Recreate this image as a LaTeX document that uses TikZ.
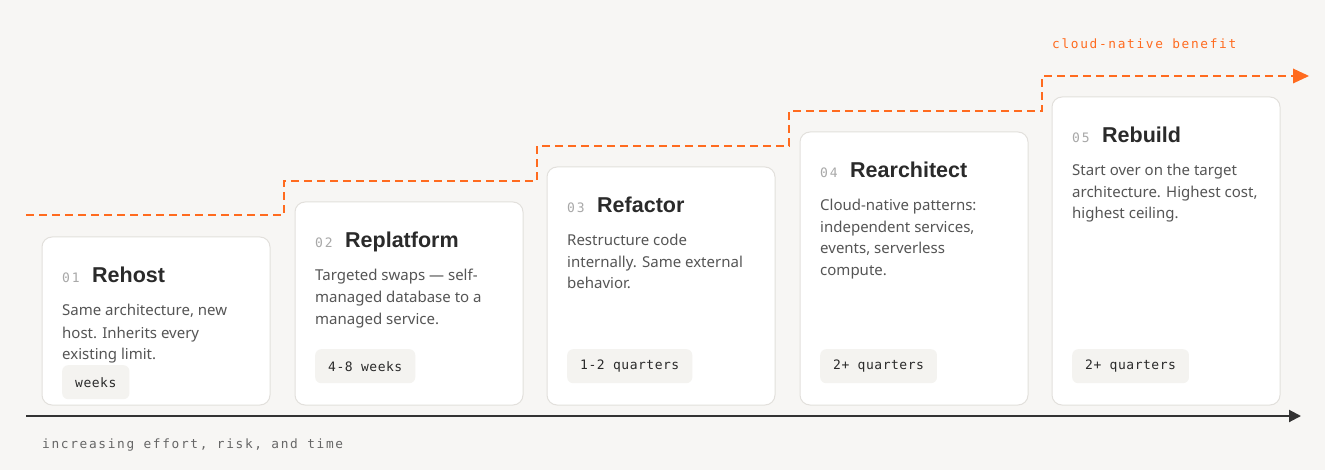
\documentclass[tikz,border=0pt]{standalone}
\usepackage{fontspec}
\setmainfont{Noto Sans}
\newfontfamily\titlef{Liberation Sans}
\newfontfamily\monof[LetterSpace=4]{DejaVu Sans Mono}
\newfontfamily\monosp[LetterSpace=15]{DejaVu Sans Mono}
\newfontfamily\monolab[LetterSpace=13]{DejaVu Sans Mono}
\usetikzlibrary{arrows.meta}
\definecolor{bg}{HTML}{F7F6F4}
\definecolor{cardline}{HTML}{E2E0DC}
\definecolor{pillfill}{HTML}{F4F3F0}
\definecolor{orange}{HTML}{FF6B1F}
\definecolor{titlec}{HTML}{2A2A2A}
\definecolor{descc}{HTML}{555555}
\definecolor{numc}{HTML}{A8A8A8}
\definecolor{axisc}{HTML}{333333}
\definecolor{labelc}{HTML}{666666}
\tikzset{
  card/.style={draw=cardline, line width=1pt, fill=white, rounded corners=10pt},
  numtxt/.style={anchor=base west, inner sep=0pt, text=numc, font=\monosp\fontsize{13}{13}\selectfont},
  titletxt/.style={anchor=base west, inner sep=0pt, text=titlec, font=\titlef\bfseries\fontsize{21.5}{21.5}\selectfont},
  desctxt/.style={anchor=base west, inner sep=0pt, text=descc, font=\fontsize{15}{15}\selectfont},
  pill/.style={anchor=north west, fill=pillfill, rounded corners=6pt, inner xsep=13pt, inner ysep=0pt, minimum height=34pt, text=titlec, font=\monof\fontsize{13}{13}\selectfont},
  benefit/.style={draw=orange, line width=2pt, dash pattern=on 8pt off 5pt},
  monolabel/.style={anchor=base west, inner sep=0pt, font=\monolab\fontsize{12.8}{12.8}\selectfont},
}
\begin{document}
\begin{tikzpicture}[x=1pt,y=-1pt]
\useasboundingbox[fill=bg] (0,0) rectangle (1325,470);

% cards
\path[card] (42,237) rectangle (270,405);
\node (c1) at (156,321) {};
\path[card] (295,202) rectangle (523,405);
\node (c2) at (409,303) {};
\path[card] (547,167) rectangle (775,405);
\node (c3) at (661,286) {};
\path[card] (800,132) rectangle (1028,405);
\node (c4) at (914,268) {};
\path[card] (1052,97) rectangle (1280,405);
\node (c5) at (1166,251) {};

% card 1
\node[numtxt] (n1) at (62,283) {01};
\node[titletxt] (t1) at (92,283) {Rehost};
\node[desctxt] (d1a) at (62,316) {Same architecture, new};
\node[desctxt] (d1b) at (62,338) {host. Inherits every};
\node[desctxt] (d1c) at (62,359) {existing limit.};
\node[pill] (p1) at (62,365) {weeks};

% card 2
\node[numtxt] (n2) at (315,248) {02};
\node[titletxt] (t2) at (345,248) {Replatform};
\node[desctxt] (d2a) at (315,281) {Targeted swaps — self-};
\node[desctxt] (d2b) at (315,303) {managed database to a};
\node[desctxt] (d2c) at (315,324) {managed service.};
\node[pill] (p2) at (315,349) {4-8 weeks};

% card 3
\node[numtxt] (n3) at (567,213) {03};
\node[titletxt] (t3) at (597,213) {Refactor};
\node[desctxt] (d3a) at (567,246) {Restructure code};
\node[desctxt] (d3b) at (567,268) {internally. Same external};
\node[desctxt] (d3c) at (567,289) {behavior.};
\node[pill] (p3) at (567,349) {1-2 quarters};

% card 4
\node[numtxt] (n4) at (820,178) {04};
\node[titletxt] (t4) at (850,178) {Rearchitect};
\node[desctxt] (d4a) at (820,211) {Cloud-native patterns:};
\node[desctxt] (d4b) at (820,233) {independent services,};
\node[desctxt] (d4c) at (820,254) {events, serverless};
\node[desctxt] (d4d) at (820,276) {compute.};
\node[pill] (p4) at (820,349) {2+ quarters};

% card 5
\node[numtxt] (n5) at (1072,143) {05};
\node[titletxt] (t5) at (1102,143) {Rebuild};
\node[desctxt] (d5a) at (1072,176) {Start over on the target};
\node[desctxt] (d5b) at (1072,198) {architecture. Highest cost,};
\node[desctxt] (d5c) at (1072,219) {highest ceiling.};
\node[pill] (p5) at (1072,349) {2+ quarters};

% benefit staircase
\coordinate (s0) at (26,215);
\coordinate (s1) at (284,215);
\coordinate (s2) at (284,181);
\coordinate (s3) at (537,181);
\coordinate (s4) at (537,146);
\coordinate (s5) at (789,146);
\coordinate (s6) at (789,111);
\coordinate (s7) at (1042,111);
\coordinate (s8) at (1042,76);
\coordinate (s9) at (1309,76);
\draw[benefit] (s0) -- (s1) -- (s2) -- (s3) -- (s4) -- (s5) -- (s6) -- (s7) -- (s8) -- (1293,76);
\fill[orange] (s9) -- (1293,68.5) -- (1293,83.5) -- cycle;
\node[monolabel, text=orange] (bl) at (1052,49) {cloud-native benefit};

% axis
\coordinate (a0) at (26,416);
\coordinate (a1) at (1301,416);
\draw[axisc, line width=2pt, -{Triangle[length=12pt,width=12pt]}] (a0) -- (a1);
\node[monolabel, text=labelc] (al) at (42,448) {increasing effort, risk, and time};
\end{tikzpicture}
\end{document}
